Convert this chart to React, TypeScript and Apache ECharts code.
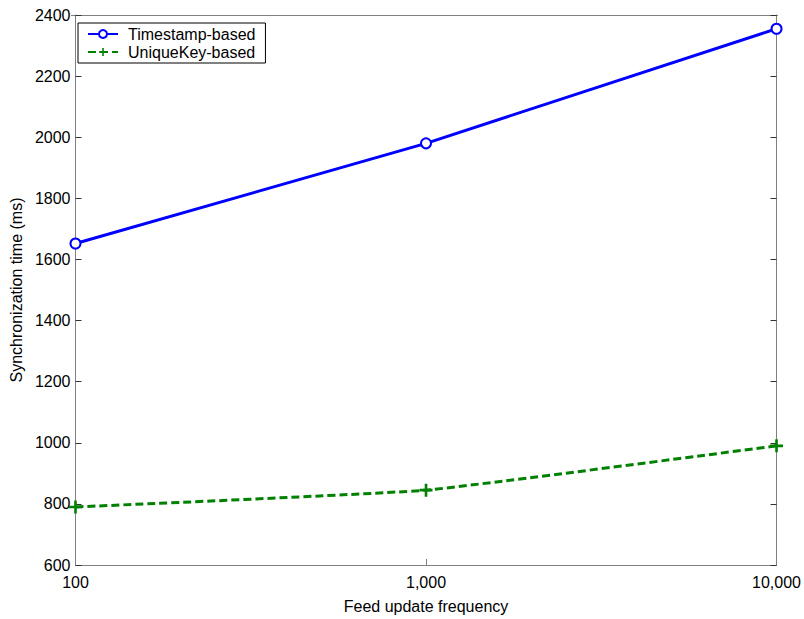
import React, { useEffect, useRef } from "react";
import * as echarts from "echarts";

const frequencies = [100, 1000, 10000];
const timestampBased = [1652, 1980, 2355];
const uniqueKeyBased = [790, 845, 990];
const seriesNames = ["Timestamp-based", "UniqueKey-based"];

const plusPath = "path://M4,0 L6,0 L6,4 L10,4 L10,6 L6,6 L6,10 L4,10 L4,6 L0,6 L0,4 L4,4 Z";

export default function App() {
  const ref = useRef<HTMLDivElement>(null);
  useEffect(() => {
    if (!ref.current) return;
    const chart = echarts.init(ref.current, null, { renderer: "svg" });
    const font = "'Liberation Sans', Arial, sans-serif";
    const fmt = (v: number) => v.toLocaleString("en-US");
    chart.setOption({
      animation: false,
      backgroundColor: "#fff",
      textStyle: { fontFamily: font },
      grid: { left: 71, top: 15, width: 707, height: 558, containLabel: false },
      legend: {
        left: 78,
        top: 23,
        orient: "vertical",
        data: seriesNames,
        borderColor: "#000",
        borderWidth: 1,
        padding: [3, 10, 3, 9],
        itemGap: 2,
        itemWidth: 30,
        itemHeight: 10,
        textStyle: { fontFamily: font, fontSize: 16, color: "#000", padding: [0, 0, 0, 5] },
      },
      xAxis: {
        type: "log",
        logBase: 10,
        min: 100,
        max: 10000,
        name: "Feed update frequency",
        nameLocation: "middle",
        nameGap: 33,
        nameTextStyle: { fontSize: 16, color: "#000", fontFamily: font },
        axisLine: { lineStyle: { color: "#808080", width: 1 } },
        axisTick: { inside: true, length: 6, lineStyle: { color: "#808080" } },
        minorTick: { show: false },
        splitLine: { show: false },
        axisLabel: { formatter: fmt, fontSize: 16, color: "#000", margin: 9, fontFamily: font },
      },
      yAxis: [
        {
          type: "value",
          min: 600,
          max: 2400,
          interval: 200,
          name: "Synchronization time (ms)",
          nameLocation: "middle",
          nameGap: 48,
          nameTextStyle: { fontSize: 16, color: "#000", fontFamily: font },
          axisLine: { show: true, lineStyle: { color: "#808080", width: 1 } },
          axisTick: { show: true, inside: true, length: 6, lineStyle: { color: "#333" } },
          splitLine: { show: false },
          axisLabel: { fontSize: 16, color: "#000", margin: 5, fontFamily: font, formatter: (v: number) => String(v) },
        },
        {
          type: "value",
          position: "right",
          min: 600,
          max: 2400,
          interval: 200,
          axisLine: { show: true, lineStyle: { color: "#808080", width: 1 } },
          axisTick: { show: true, inside: true, length: 6, lineStyle: { color: "#333" } },
          splitLine: { show: false },
          axisLabel: { show: false },
        },
      ],
      graphic: [
        {
          type: "line",
          shape: { x1: 71, y1: 15.5, x2: 778, y2: 15.5 },
          style: { stroke: "#808080", lineWidth: 1 },
          silent: true,
        },
      ],
      series: [
        {
          name: seriesNames[0],
          type: "line",
          data: frequencies.map((f, i) => [f, timestampBased[i]]),
          symbol: "emptyCircle",
          symbolSize: 10,
          color: "#0000ff",
          lineStyle: { color: "#0000ff", width: 3 },
          itemStyle: { color: "#0000ff", borderColor: "#0000ff", borderWidth: 2.5 },
        },
        {
          name: seriesNames[1],
          type: "line",
          data: frequencies.map((f, i) => [f, uniqueKeyBased[i]]),
          symbol: plusPath,
          symbolSize: 13,
          smooth: 0.12,
          color: "#008000",
          lineStyle: { color: "#008000", width: 3, type: [8, 4] },
          itemStyle: { color: "#008000" },
        },
      ],
    });
    return () => chart.dispose();
  }, []);
  return (
    <div
      ref={ref}
      style={{ position: "fixed", left: 0, top: 0, width: 804, height: 619, background: "#fff" }}
    />
  );
}
